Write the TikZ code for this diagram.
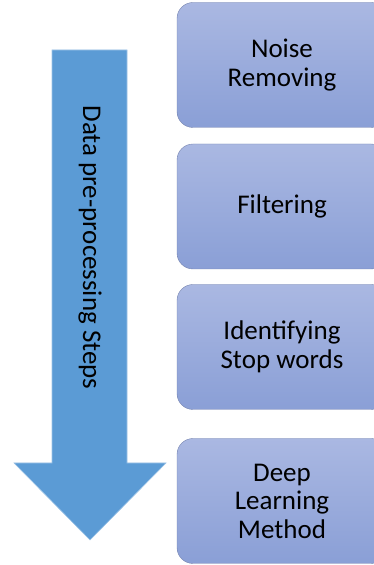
\documentclass[tikz,border=0pt]{standalone}
\usepackage{fontspec}
\setmainfont{Carlito}
\definecolor{arrowblue}{RGB}{91,155,213}
\definecolor{boxtop}{RGB}{170,184,226}
\definecolor{boxbottom}{RGB}{138,159,214}
\definecolor{boxline}{RGB}{118,132,175}
\begin{document}
\begin{tikzpicture}[x=1pt, y=1pt,
		mybox/.style={draw=boxline, rounded corners=16pt, top color=boxtop, bottom color=boxbottom, minimum width=210pt, minimum height=125pt, align=center, font=\fontsize{27}{28.5}\selectfont}]
		\clip (0, 0) rectangle (374, 565);

		% the big arrow on the left
		\fill[arrowblue, draw=arrowblue!60!white, line width=0.6pt]
		(52, 515) -- (127, 515) -- (127, 102) -- (166, 102) -- (90, 25) -- (14, 102) -- (52, 102) -- cycle;
		\node[rotate=-90, font=\fontsize{27}{30}\selectfont] at (90, 317.5) (steps) {Data pre-processing Steps};

		% the steps (cut off at the right edge)
		\node[mybox] at (282, 500) (noise) {Noise\\Removing};
		\node[mybox] at (282, 358.5) (filter) {Filtering};
		\node[mybox] at (282, 218) (stop) {Identifying\\Stop words};
		\node[mybox] at (282, 64) (deep) {Deep\\Learning\\Method};
	\end{tikzpicture}
\end{document}
